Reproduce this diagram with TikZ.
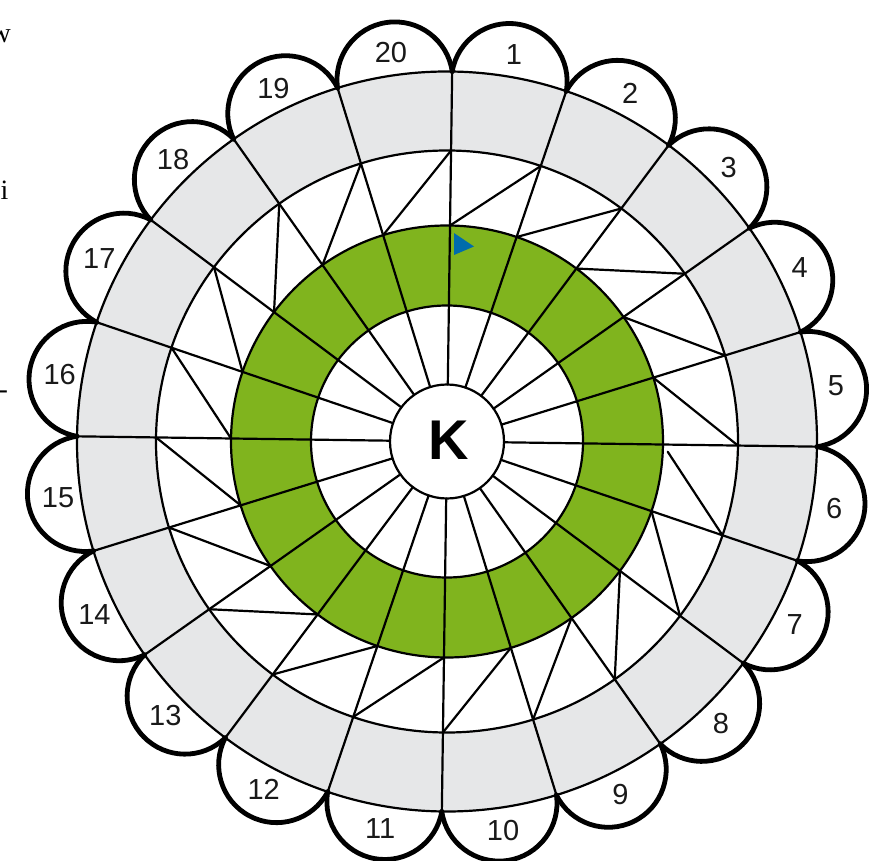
\documentclass[tikz,border=0pt]{standalone}
\usepackage{fontspec}
\usetikzlibrary{calc}
\setmainfont{Liberation Sans}
\newfontfamily\leftserif{Liberation Serif}
\definecolor{ringgreen}{RGB}{128,180,30}
\definecolor{ringgray}{RGB}{230,231,232}
\definecolor{markblue}{RGB}{0,108,172}
\begin{document}
\begin{tikzpicture}[x=1pt,y=1pt,
  thinline/.style={line width=2.2pt, line join=round, line cap=round},
  scallopline/.style={line width=4.8pt, line join=round, line cap=round},
  numlabel/.style={font=\fontsize{29}{29}\selectfont, inner sep=0pt, text=black!90},
  pagetext/.style={font=\leftserif\fontsize{28}{28}\selectfont, inner sep=0pt}]
\useasboundingbox (-447,-419.5) rectangle (444,441.5);
\fill[white] (-447,-419.5) rectangle (444,441.5);
\def\rot{-0.8}
% ring fills
\fill[ringgray, even odd rule] (0,0) circle[radius=370] (0,0) circle[radius=291];
\fill[ringgreen, even odd rule] (0,0) circle[radius=216] (0,0) circle[radius=136];
% named points on the rings
\foreach \j in {0,...,19}{
  \pgfmathsetmacro\ang{90-18*\j+\rot}
  \coordinate (k\j) at (\ang:57);
  \coordinate (e\j) at (\ang:216);
  \coordinate (g\j) at (\ang:291);
  \coordinate (o\j) at (\ang:370);
}
\coordinate (ctr) at (0,0);
% circles
\foreach \r in {57,136,216,291,370}{
  \draw[thinline] (ctr) circle[radius=\r];
}
% spokes
\foreach \j in {0,...,19}{
  \draw[thinline] (k\j) -- (o\j);
}
% diagonals in the triangle ring
\foreach \j/\m in {0/19,1/0,2/1,3/2,4/3,5/4,7/6,8/7,9/8,10/9,11/10,12/11,13/12,14/13,15/14,16/15,17/16,18/17,19/18}{
  \draw[thinline] (g\j) -- (e\m);
}
\draw[thinline] (g6) -- ($(g6)!0.92!(e5)$);
% scallops and numbers
\foreach \j in {0,...,19}{
  \pgfmathsetmacro\am{90-18*\j-9+\rot}
  \pgfmathtruncatemacro\num{\j+1}
  \draw[scallopline] (o\j) arc[start angle=\am+90, end angle=\am-90, radius=57.9];
  \node[numlabel] (n\j) at (\am:393) {\num};
}
% centre letter
\node[font=\bfseries\fontsize{56}{56}\selectfont, inner sep=0pt] (kay) at (2,1.5) {K};
% blue marker
\fill[markblue] (7,208.5) -- (27,195) -- (7,186.5) -- cycle;
% cut-off text of the page at the left edge
\node[pagetext, anchor=base east] (tw) at (-436,398.5) {w};
\node[pagetext, anchor=base west] (ti) at (-446.5,241.5) {i};
\node[pagetext, anchor=base west] (th) at (-448.5,42.5) {-};
\end{tikzpicture}
\end{document}
